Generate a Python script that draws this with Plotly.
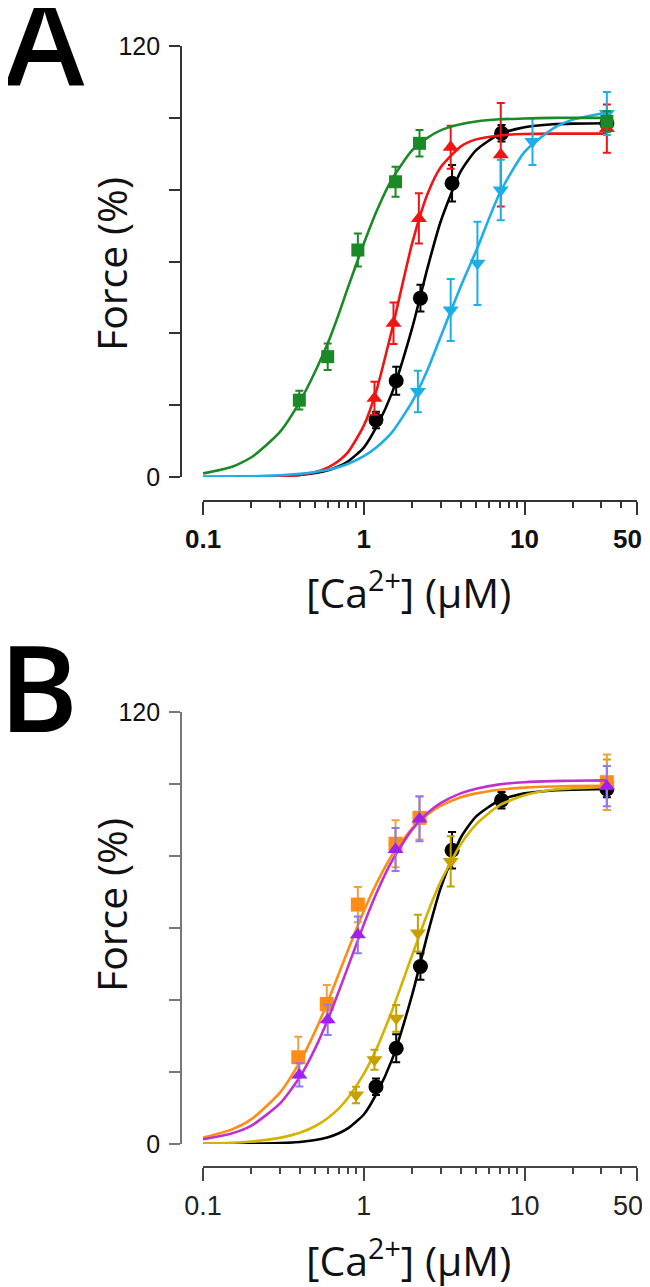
import plotly.graph_objects as go
import math

W, H = 650, 1287
OFF = 8  # page offset of the figure inside the browser window (body margin)

# ---------------- Panel A data ----------------
xA_black = [1.19, 1.59, 2.25, 3.54, 7.19, 32.5]
yA_black = [15.9, 26.8, 49.8, 81.8, 95.7, 98.5]
eA_black = [2.3, 3.9, 3.7, 5.1, 2.3, 2.3]

xA_green = [0.397, 0.596, 0.918, 1.575, 2.22, 32.5]
yA_green = [21.4, 33.5, 63.2, 82.2, 92.9, 99.0]
eA_green = [2.6, 3.7, 4.6, 4.2, 3.7, 2.8]

xA_red = [1.165, 1.53, 2.2, 3.47, 7.11, 32.5]
yA_red = [21.9, 42.8, 72.0, 91.8, 89.7, 97.0]
eA_red = [4.6, 5.8, 7.0, 6.0, 14.4, 6.7]

xA_cyan = [2.17, 3.47, 5.09, 7.11, 11.2, 32.5]
yA_cyan = [23.8, 46.5, 59.5, 79.9, 93.4, 101.2]
eA_cyan = [5.8, 8.6, 11.6, 8.4, 6.5, 6.0]

# fitted curves (values at these concentrations)
x_fit = [0.1, 0.15, 0.2, 0.3, 0.4, 0.5, 0.6, 0.7, 0.8, 1.0, 1.2, 1.5,
         2.0, 2.5, 3.0, 4.0, 5.0, 7.0, 10.0, 15.0, 20.0, 32.5]
fA_black = [0.0, 0.02, 0.05, 0.25, 0.55, 1.1, 1.9, 3.0, 4.4, 8.2, 14.0, 23.5,
            41.5, 58.5, 71.0, 85.0, 91.0, 95.5, 97.4, 98.2, 98.4, 98.5]
fA_green = [1.0, 2.8, 5.5, 12.5, 21.0, 29.5, 37.5, 45.5, 53.0, 65.0, 74.0, 83.0,
            91.0, 94.5, 96.5, 98.2, 99.0, 99.6, 99.8, 100.0, 100.0, 100.0]
fA_red = [0.0, 0.02, 0.05, 0.22, 0.6, 1.4, 2.7, 4.5, 7.0, 14.3, 24.2, 41.2,
          65.1, 79.0, 86.2, 92.0, 94.0, 95.1, 95.5, 95.6, 95.6, 95.6]
fA_cyan = [0.05, 0.12, 0.2, 0.5, 0.9, 1.4, 2.0, 2.8, 3.7, 5.8, 8.3, 12.5,
           21.0, 30.0, 39.0, 53.0, 63.0, 79.0, 90.5, 97.0, 99.5, 101.5]

# ---------------- Panel B data ----------------
xB_black = xA_black
yB_black = [15.9, 26.6, 49.3, 81.6, 95.5, 98.6]
eB_black = eA_black

xB_orange = [0.391, 0.588, 0.918, 1.575, 2.22, 32.5]
yB_orange = [24.1, 38.9, 66.5, 83.4, 90.6, 100.5]
eB_orange = [5.7, 5.3, 4.9, 6.5, 6.0, 7.7]

xB_purple = [0.397, 0.596, 0.918, 1.575, 2.22, 32.5]
yB_purple = [19.2, 34.5, 58.1, 81.8, 90.3, 99.4]
eB_purple = [3.2, 4.2, 5.1, 6.0, 6.2, 5.6]

xB_gold = [0.895, 1.165, 1.59, 2.17, 3.47, 32.5]
yB_gold = [13.6, 23.4, 34.9, 58.6, 78.5, 99.8]
eB_gold = [2.3, 2.8, 3.7, 5.1, 7.0, 7.0]

fB_black = [0.0, 0.02, 0.05, 0.25, 0.55, 1.1, 1.9, 3.0, 4.4, 8.2, 14.0, 23.5,
            41.5, 58.5, 71.0, 85.0, 91.0, 95.5, 97.4, 98.2, 98.4, 98.6]
fB_orange = [1.8, 4.0, 6.9, 14.2, 22.8, 31.5, 39.8, 47.4, 54.0, 64.7, 72.4, 80.3,
             87.7, 91.6, 93.9, 96.3, 97.4, 98.4, 99.0, 99.3, 99.4, 99.5]
fB_purple = [1.3, 2.9, 5.1, 11.2, 18.6, 26.7, 34.8, 42.5, 49.4, 61.0, 69.7, 78.7,
             87.4, 92.0, 94.7, 97.4, 98.7, 99.9, 100.5, 100.8, 100.9, 101.0]
fB_gold = [0.15, 0.35, 0.7, 1.7, 3.1, 5.0, 7.3, 9.9, 12.9, 19.5, 26.5, 37.1,
           52.5, 64.3, 72.8, 83.2, 88.8, 94.1, 96.9, 98.4, 98.8, 99.2]

# tick labels (the "50" label sits slightly left of its tick in the original,
# so it is written as a separate label anchored to the tick)
x_tickvals = [0.1, 1, 10, 50]
x_ticktext = ["0.1", "1", "10", ""]
x_end_value = 50
x_end_label = "50"
x_minor = [0.2, 0.3, 0.4, 0.5, 0.6, 0.7, 0.8, 0.9,
           2, 3, 4, 5, 6, 7, 8, 9, 20, 30, 40]
y_tickvals = [0, 20, 40, 60, 80, 100, 120]
y_ticktext = ["0", "", "", "", "", "", "120"]

# ---------------- layout geometry (window pixels -> paper) ----------------
def py(p):
    return 1 - (p - OFF) / H

def px(p):
    return (p - OFF) / W

x_dom = [px(203), px(637)]
A_dom = [py(477), py(46)]
B_dom = [py(1144), py(712)]

fig = go.Figure()

def add_series(xs, ys, es, xf, yf, color, linecolor, symbol, size, ax, ecolor=None):
    xa, ya = ("x", "y") if ax == 1 else ("x2", "y2")
    fig.add_trace(go.Scatter(x=xf, y=yf, mode="lines", xaxis=xa, yaxis=ya,
                             line=dict(color=linecolor, width=2.6, shape="spline", smoothing=0.6),
                             cliponaxis=False, showlegend=False, hoverinfo="skip"))
    fig.add_trace(go.Scatter(x=xs, y=ys, mode="markers", xaxis=xa, yaxis=ya,
                             marker=dict(symbol=symbol, size=size, color=color, line=dict(width=0)),
                             error_y=dict(type="data", array=es, color=ecolor or color,
                                          thickness=2, width=4),
                             cliponaxis=False, showlegend=False))

# Panel A
add_series(xA_black, yA_black, eA_black, x_fit, fA_black, "#000000", "#000000", "circle", 15, 1)
add_series(xA_red, yA_red, eA_red, x_fit, fA_red, "#f01414", "#f01414", "triangle-up", 14, 1)
add_series(xA_cyan, yA_cyan, eA_cyan, x_fit, fA_cyan, "#1eaee6", "#1eaee6", "triangle-down", 14, 1)
add_series(xA_green, yA_green, eA_green, x_fit, fA_green, "#1a8a26", "#1a8a26", "square", 13, 1)

# Panel B
add_series(xB_black, yB_black, eB_black, x_fit, fB_black, "#000000", "#000000", "circle", 15, 2)
add_series(xB_gold, yB_gold, eB_gold, x_fit, fB_gold, "#c8a000", "#d2b400", "triangle-down", 14, 2)
add_series(xB_orange, yB_orange, eB_orange, x_fit, fB_orange, "#ff8c14", "#ff8c14", "square", 14, 2,
           ecolor="#f0a040")
add_series(xB_purple, yB_purple, eB_purple, x_fit, fB_purple, "#a020f0", "#c030d0", "triangle-up", 14, 2,
           ecolor="#8c78f0")

tickfontA = dict(family="Liberation Sans, Arial, sans-serif", size=26, color="#111", weight="bold")
tickfontB = dict(family="Liberation Sans, Arial, sans-serif", size=27, color="#222")
ytickfont = dict(family="Liberation Sans, Arial, sans-serif", size=25, color="#111")

def xaxis_cfg(pos, lc, tf):
    return dict(domain=x_dom, type="log", range=[-1.0005, math.log10(50) + 0.0005], anchor="free",
                position=pos, showline=True, linecolor=lc, linewidth=1.5,
                ticks="outside", ticklen=13, tickwidth=1.5, tickcolor=lc,
                tickmode="array", tickvals=x_tickvals, ticktext=x_ticktext,
                minor=dict(tickmode="array", tickvals=x_minor, ticks="outside",
                           ticklen=6, tickwidth=1.5, tickcolor=lc, showgrid=False),
                showgrid=False, zeroline=False, tickfont=tf, ticklabelstandoff=2,
                ticklabeloverflow="allow", automargin=False)

def yaxis_cfg(dom, lc):
    return dict(domain=dom, range=[0, 120], anchor="free", position=px(181),
                showline=True, linecolor=lc, linewidth=1.8,
                ticks="outside", ticklen=11, tickwidth=1.5, tickcolor=lc,
                tickmode="array", tickvals=y_tickvals, ticktext=y_ticktext,
                showgrid=False, zeroline=False, tickfont=ytickfont, ticklabelstandoff=4,
                ticklabeloverflow="allow", automargin=False)

fig.update_layout(
    width=W, height=H, margin=dict(l=0, r=0, t=0, b=0, pad=0, autoexpand=False),
    paper_bgcolor="white", plot_bgcolor="rgba(0,0,0,0)",
    xaxis=xaxis_cfg(py(501), "#333333", tickfontA),
    yaxis=yaxis_cfg(A_dom, "#333333"),
    xaxis2=xaxis_cfg(py(1167), "#444444", tickfontB),
    yaxis2=yaxis_cfg(B_dom, "#777777"),
    showlegend=False,
)

title_font = dict(family="Open Sans, sans-serif", size=41, color="#111")
letter_font = dict(family="Open Sans, sans-serif", size=120, color="#000", weight=600)

annots = [
    dict(text="A", x=px(3), y=py(-44), xanchor="left", yanchor="top", font=letter_font,
         xref="paper", yref="paper"),
    dict(text="B", x=px(-3), y=py(602), xanchor="left", yanchor="top", font=letter_font,
         xref="paper", yref="paper"),
    dict(text="Force (%)", x=px(111), y=py(264), textangle=-90, xanchor="center",
         yanchor="middle", font=title_font, xref="paper", yref="paper"),
    dict(text="Force (%)", x=px(111), y=py(905), textangle=-90, xanchor="center",
         yanchor="middle", font=title_font, xref="paper", yref="paper"),
    dict(text="[Ca<sup>2+</sup>] (μM)", x=px(408), y=py(590), xanchor="center",
         yanchor="middle", font=title_font, xref="paper", yref="paper"),
    dict(text="[Ca<sup>2+</sup>] (μM)", x=px(408), y=py(1258), xanchor="center",
         yanchor="middle", font=title_font, xref="paper", yref="paper"),
    # end-of-axis "50" labels, tied to the x axes' own scale
    dict(text=x_end_label, x=math.log10(x_end_value), xref="x", y=py(539), yref="paper",
         xanchor="center", yanchor="middle", xshift=-9, font=tickfontA),
    dict(text=x_end_label, x=math.log10(x_end_value), xref="x2", y=py(1206), yref="paper",
         xanchor="center", yanchor="middle", xshift=-9, font=tickfontB),
]
for a in annots:
    a.update(showarrow=False)
fig.update_layout(annotations=annots)

fig.write_html("out.html")
